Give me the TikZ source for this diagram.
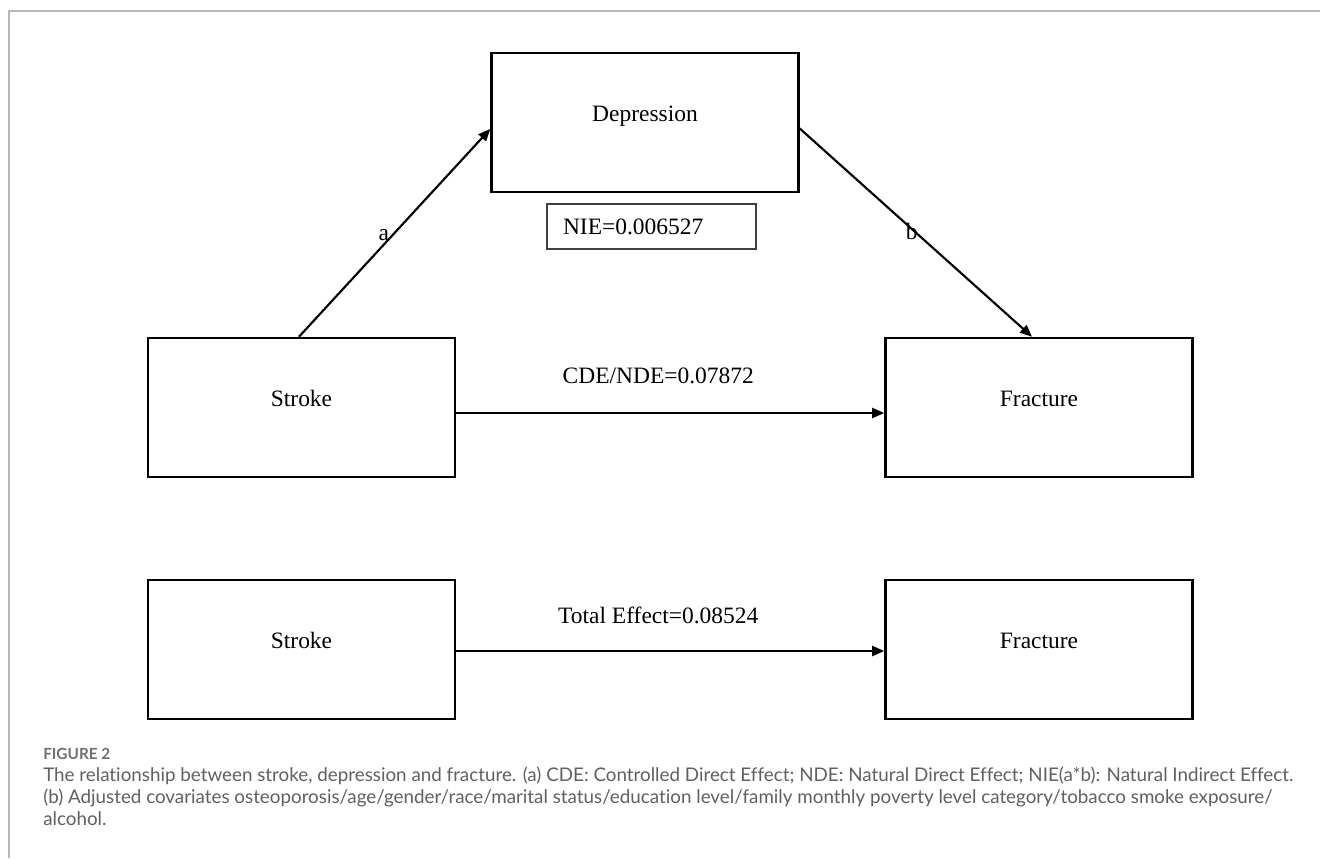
\documentclass[tikz,border=0pt]{standalone}
\usepackage{fontspec}
\setmainfont{Liberation Serif}
\newfontfamily\capfont[Ligatures=NoCommon]{Lato}
\usetikzlibrary{arrows.meta,calc}
\definecolor{framegray}{HTML}{B8B8B8}
\definecolor{capgray}{HTML}{606060}
\definecolor{figgray}{HTML}{707070}
\newcommand{\boxtext}[1]{\raisebox{1.1pt}[0pt][0pt]{#1}}
\begin{document}
\begin{tikzpicture}[x=0.75pt,y=-0.75pt,
  varbox/.style={draw=black, line width=1.9pt, minimum width=230.25pt, minimum height=104.25pt, inner sep=0pt, font=\fontsize{17.6pt}{20pt}\selectfont},
  niebox/.style={draw=black!75, line width=1.1pt, minimum height=33.75pt, text width=132.75pt, inner xsep=12pt, inner ysep=0pt, align=left, font=\fontsize{17.6pt}{20pt}\selectfont},
  arr/.style={line width=1.6pt, -{Triangle[length=9pt,width=7.5pt]}},
  lab/.style={font=\fontsize{17.6pt}{20pt}\selectfont, inner sep=0pt},
  captext/.style={anchor=base west, inner sep=0pt, text=capgray, font=\capfont\fontsize{14.1pt}{16pt}\selectfont},
  figlab/.style={anchor=base west, inner sep=0pt, text=figgray, font=\capfont\bfseries\fontsize{11.5pt}{13pt}\selectfont}
]
\useasboundingbox (0,0) rectangle (1320,858);
\fill[white] (0,0) rectangle (1320,858);
% frame
\draw[framegray, line width=1.5pt] (9,858) -- (9,11) -- (1320,11);

% nodes
\node[varbox] (dep) at (645,122.5) {\boxtext{Depression}};
\node[niebox] (nie) at (651.5,226.5) {NIE=0.006527};
\node[varbox] (s1) at (301.5,407.5) {\boxtext{Stroke}};
\node[varbox] (f1) at (1039,407.5) {\boxtext{Fracture}};
\node[varbox] (s2) at (301.5,649.5) {\boxtext{Stroke}};
\node[varbox] (f2) at (1039,649.5) {\boxtext{Fracture}};

% connectors
\draw[arr] ($(s1.north)+(-2.5,0)$) -- node[lab, pos=0.49, xshift=-6.75pt] {a} ($(dep.west)+(0,6.5)$);
\draw[arr] ($(dep.east)+(0,6)$) -- node[lab, pos=0.495, xshift=-2.25pt] {b} ($(f1.north)+(-7,0)$);
\draw[arr] ($(s1.east)+(0,5.5)$) -- node[lab, anchor=base, pos=0.5, yshift=22.5pt, xshift=-9pt] {CDE/NDE=0.07872} ($(f1.west)+(0,5.5)$);
\draw[arr] ($(s2.east)+(0,1.5)$) -- node[lab, anchor=base, pos=0.5, yshift=21pt, xshift=-9pt] {Total Effect=0.08524} ($(f2.west)+(0,1.5)$);

% caption
\node[figlab] (fig) at (43,759) {FIGURE 2};
\node[captext] (c1) at (43,781) {The relationship between stroke, depression and fracture. (a) CDE: Controlled Direct Effect; NDE: Natural Direct Effect; NIE(a*b): Natural Indirect Effect.};
\node[captext] (c2) at (43,803) {(b) Adjusted covariates osteoporosis/age/gender/race/marital status/education level/family monthly poverty level category/tobacco smoke exposure/};
\node[captext] (c3) at (43,825) {alcohol.};
\end{tikzpicture}
\end{document}
